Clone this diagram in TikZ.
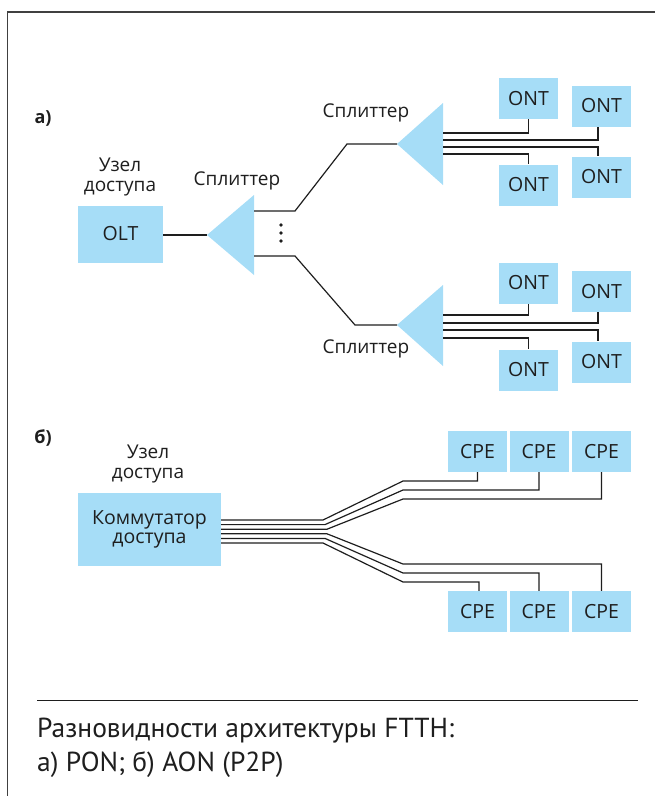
\documentclass[tikz,border=0pt]{standalone}
\usepackage{fontspec}
\setmainfont{Open Sans}
\newfontfamily\capfont{PT Sans}
\definecolor{boxblue}{HTML}{A6DDF7}
\definecolor{ink}{HTML}{1E1E1E}
\begin{document}
\begin{tikzpicture}[x=1pt,y=-1pt,
  box/.style={fill=boxblue, minimum width=59, minimum height=41, inner sep=0, font=\fontsize{19.5}{21}\selectfont, text=ink},
  wire/.style={draw=ink, line width=1.2pt},
  lbl/.style={font=\fontsize{19}{20.5}\selectfont, text=ink, align=center, inner sep=0},
  tag/.style={font=\bfseries\fontsize{18}{20}\selectfont, text=ink, inner sep=0},
  frame/.style={draw=black!75, line width=1.5pt},
  split/.style={fill=boxblue}
]
\useasboundingbox (0,0) rectangle (655,796);
\draw[frame] (7.5,796) -- (7.5,12) -- (655,12);

% ---------- a) PON ----------
\node[tag] (ta) at (43,118) {а)};
\node[lbl] (u1) at (120,177) {Узел\\доступа};
\node[box, minimum width=85, minimum height=57] (olt) at (120.5,234) {OLT};

\coordinate (s0) at (207,235);
\fill[split] (s0) -- (254,195) -- (254,275) -- cycle;
\coordinate (s0a) at (254,211);
\coordinate (s0b) at (254,256);
\node[lbl] (ls0) at (237,181) {Сплиттер};
\draw[wire] (olt.east |- s0) -- (s0);
\foreach \y in {225,233,241} \fill[ink] (281,\y) circle[radius=1.8pt];

\coordinate (s1) at (397,144);
\fill[split] (s1) -- (443,103) -- (443,185) -- cycle;
\node[lbl] (ls1) at (366,113) {Сплиттер};
\draw[wire] (s0a) -- (295,211) -- (347,144) -- (s1);

\coordinate (s2) at (397,325);
\fill[split] (s2) -- (443,285) -- (443,366) -- cycle;
\node[lbl] (ls2) at (366,349) {Сплиттер};
\draw[wire] (s0b) -- (295,256) -- (355,325) -- (s2);

\node[box] (o1) at (528.5,98.5) {ONT};
\node[box] (o2) at (601.5,106) {ONT};
\node[box] (o3) at (528.5,185) {ONT};
\node[box] (o4) at (601.5,177) {ONT};
\coordinate (p1) at (443,133);
\coordinate (p2) at (443,140);
\coordinate (p3) at (443,147);
\coordinate (p4) at (443,154);
\draw[wire] (p1) -| (o1.south);
\draw[wire] (p2) -| ([xshift=-3.5pt]o2.south);
\draw[wire] (p3) -| ([xshift=-3.5pt]o4.north);
\draw[wire] (p4) -| (o3.north);

\node[box] (o5) at (528.5,283) {ONT};
\node[box] (o6) at (601.5,291.5) {ONT};
\node[box] (o7) at (528.5,370) {ONT};
\node[box] (o8) at (601.5,362) {ONT};
\coordinate (q1) at (443,315);
\coordinate (q2) at (443,323);
\coordinate (q3) at (443,330);
\coordinate (q4) at (443,338);
\draw[wire] (q1) -| (o5.south);
\draw[wire] (q2) -| ([xshift=-3.5pt]o6.south);
\draw[wire] (q3) -| ([xshift=-3.5pt]o8.north);
\draw[wire] (q4) -| (o7.north);

% ---------- b) AON ----------
\node[tag] (tb) at (43,438) {б)};
\node[lbl] (u2) at (148,464) {Узел\\доступа};
\node[box, minimum width=143, minimum height=73, align=center, font=\fontsize{19.5}{19.5}\selectfont] (sw) at (149.5,529.5) {Коммутатор\\доступа};

\node[box] (c1) at (477.5,451.5) {CPE};
\node[box] (c2) at (539,451.5) {CPE};
\node[box] (c3) at (601.5,451.5) {CPE};
\node[box] (c4) at (477.5,611.5) {CPE};
\node[box] (c5) at (539,611.5) {CPE};
\node[box] (c6) at (601.5,611.5) {CPE};

\draw[wire] (sw.east |- 0,520)   -- (323,520)   -- (403,481) -| (c1.south);
\draw[wire] (sw.east |- 0,524.6) -- (325,524.6) -- (403,490) -| (c2.south);
\draw[wire] (sw.east |- 0,529.2) -- (327,529.2) -- (403,499) -| (c3.south);
\draw[wire] (sw.east |- 0,533.8) -- (327,533.8) -- (403,564) -| (c6.north);
\draw[wire] (sw.east |- 0,538.4) -- (325,538.4) -- (403,573) -| (c5.north);
\draw[wire] (sw.east |- 0,543)   -- (323,543)   -- (403,582) -| ([xshift=1.5pt]c4.north);

% ---------- caption ----------
\draw[draw=ink, line width=1pt] (37,700) -- (638,700);
\node[anchor=base west, inner sep=0, text=ink, font=\capfont\fontsize{27.5}{34}\selectfont] (cap1) at (37,737) {Разновидности архитектуры FTTH:};
\node[anchor=base west, inner sep=0, text=ink, font=\capfont\fontsize{27.5}{34}\selectfont] (cap2) at (37,771) {а) PON; б) AON (P2P)};
\end{tikzpicture}
\end{document}
